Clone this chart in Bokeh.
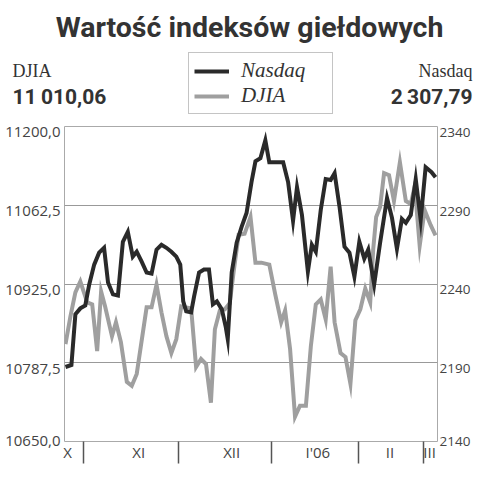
from bokeh.plotting import figure
from bokeh.layouts import column
from bokeh.models import (Range1d, LinearAxis, FixedTicker, CustomJSTickFormatter,
                          Legend, LegendItem)
from bokeh.core.properties import value
from bokeh.embed import file_html
from bokeh.resources import INLINE

# ---- data (session index along the time axis, index values) ----
nasdaq_t = [0.2, 1.4, 2.2, 3.2, 4.2, 5.0, 6.0, 7.0, 8.0, 8.8, 9.8, 10.8, 11.8, 12.8, 13.8,
            14.6, 15.6, 16.6, 17.6, 18.6, 19.6, 20.6, 21.6, 22.6, 23.4, 24.0, 24.6, 25.6, 26.2,
            27.2, 28.2, 29.2, 30.0, 30.8, 31.8, 32.6, 33.0, 33.8, 34.8, 35.8, 36.8, 37.8, 38.6,
            39.6, 40.6, 41.4, 42.6, 44.2, 45.2, 46.2, 47.0, 48.0, 49.2, 50.0, 50.8, 51.8, 52.8,
            53.8, 54.6, 55.6, 56.6, 57.6, 58.6, 59.6, 60.6, 61.4, 62.6, 63.8, 65.2, 66.2, 67.2,
            68.2, 69.0, 70.0, 71.0, 72.0, 73.0, 74.2, 75.0]
nasdaq_v = [2187.3, 2188.6, 2220.8, 2224.5, 2226.4, 2239.7, 2252.3, 2259.9, 2263.0, 2241.0,
            2233.4, 2232.7, 2266.8, 2273.1, 2257.4, 2260.5, 2254.2, 2247.3, 2246.6, 2261.8,
            2264.9, 2263.0, 2260.5, 2257.4, 2252.3, 2229.0, 2222.7, 2222.0, 2232.1, 2247.3,
            2249.2, 2249.2, 2227.1, 2229.0, 2223.9, 2212.6, 2205.0, 2247.3, 2266.2, 2276.3,
            2285.1, 2304.7, 2317.9, 2319.8, 2331.2, 2317.3, 2317.3, 2317.3, 2304.7, 2280.1,
            2301.5, 2283.8, 2247.9, 2264.9, 2260.5, 2287.0, 2306.6, 2306.0, 2310.3, 2288.9,
            2263.7, 2259.9, 2244.7, 2266.8, 2256.1, 2261.8, 2239.7, 2266.2, 2294.6, 2282.0,
            2262.4, 2281.3, 2278.8, 2283.8, 2306.6, 2280.7, 2314.1, 2311.0, 2307.79]

djia_t = [0.2, 1.2, 2.2, 3.2, 4.6, 5.6, 6.6, 7.4, 8.2, 9.6, 10.4, 11.4, 12.6, 13.6, 14.6,
          16.6, 17.6, 18.6, 19.6, 20.6, 21.6, 22.6, 23.6, 24.6, 25.6, 26.6, 27.6, 28.6, 29.6,
          30.4, 31.4, 32.4, 33.4, 34.2, 35.2, 36.4, 37.6, 38.6, 39.8, 41.4, 42.6, 43.8, 44.6,
          45.6, 46.6, 47.6, 48.8, 49.8, 50.8, 51.8, 52.8, 53.8, 54.6, 55.8, 56.8, 57.8, 58.8,
          59.8, 60.8, 61.8, 62.4, 63.0, 63.8, 64.6, 65.6, 66.6, 67.8, 69.0, 70.0, 70.8, 71.8,
          72.8, 74.0, 75.0]
djia_v = [10820, 10868.6, 10910.3, 10929.3, 10892.9, 10889.4, 10807.9, 10912, 10886, 10833.9,
          10858.2, 10823.5, 10754.1, 10747.2, 10768, 10884.2, 10884.2, 10924.1, 10875.6, 10833.9,
          10804.4, 10828.7, 10886, 10884.2, 10882.5, 10780.1, 10794, 10785.3, 10717.7, 10846.1,
          10879, 10880.8, 10891.2, 10946.7, 11010.9, 11012.6, 11042.1, 10962.3, 10962.3, 10958.8,
          10906.8, 10858.2, 10879, 10811.4, 10693.4, 10712.5, 10712.5, 10816.6, 10889.4, 10898.1,
          10863.4, 10955.4, 10858.2, 10804.4, 10797.5, 10750.6, 10861.7, 10880.8, 10917.2, 10892.9,
          10984.9, 11042.1, 11059.5, 11118.5, 11115, 11069.9, 11137.5, 11069.9, 11064.7, 11095.9,
          10991.8, 11054.3, 11028.2, 11010.06]

month_bounds = [3.8, 23.0, 41.8, 59.4, 72.6]
month_mid = [0.6, 15.0, 33.8, 51.2, 65.8, 73.8]
month_names = ["X", "XI", "XII", "I'06", "II", "III"]

djia_min, djia_max = 10650, 11200
nasdaq_min, nasdaq_max = 2140, 2340
djia_ticks = [10650, 10787.5, 10925, 11062.5, 11200]
nasdaq_ticks = [2140, 2190, 2240, 2290, 2340]

title_text = "Wartość indeksów giełdowych"
djia_name, djia_last = "DJIA", "11\u2009010,06"
nasdaq_name, nasdaq_last = "Nasdaq", "2\u2009307,79"

BLACK = "#2a2a2a"
GREY = "#9f9f9f"
TXT = "#333333"
FONT = "Open Sans"

W = 473
HH = 114          # header height
CH = 350          # chart height
TOP, BOTTOM, LEFT, RIGHT = 12, 22, 64, 33
FRAME_H = CH - TOP - BOTTOM
LABEL_DROP = 6    # tick labels hang just below their grid line

# ---------------- header ----------------
ph = figure(width=W, height=HH, output_backend="svg", toolbar_location=None,
            x_range=Range1d(0, W), y_range=Range1d(HH, 0),
            x_axis_type=None, y_axis_type=None,
            min_border_left=0, min_border_right=0, min_border_top=0, min_border_bottom=0)
ph.frame_align = False
ph.outline_line_color = None
ph.xgrid.visible = False
ph.ygrid.visible = False

ph.text(x=[249], y=[27], text=[title_text], text_align="center", text_baseline="alphabetic",
        text_font=value("Roboto"), text_font_style="bold", text_font_size="28.5px", text_color=TXT)
ph.text(x=[12, 472], y=[70, 70], text=[djia_name, nasdaq_name], text_align=["left", "right"],
        text_baseline="alphabetic", text_font=value("Liberation Serif"),
        text_font_size="18px", text_color=TXT)
ph.text(x=[12, 472], y=[96, 96], text=[djia_last, nasdaq_last], text_align=["left", "right"],
        text_baseline="alphabetic", text_font=value("Roboto"), text_font_style="bold",
        text_font_size="21px", text_color=TXT)

# legend swatch renderers (kept outside the visible header area)
sw_nq = ph.line(x=[-50, -40], y=[-50, -50], line_color=BLACK, line_width=4)
sw_dj = ph.line(x=[-50, -40], y=[-50, -50], line_color=GREY, line_width=4)
legend = Legend(items=[LegendItem(label=nasdaq_name, renderers=[sw_nq]),
                       LegendItem(label=djia_name, renderers=[sw_dj])],
                location=(188, 0), orientation="vertical",
                border_line_color="#8a8a8a", border_line_width=1,
                background_fill_color="white", background_fill_alpha=1,
                label_text_font="Liberation Serif", label_text_font_style="italic",
                label_text_font_size="21px", label_text_color=TXT,
                glyph_width=35, glyph_height=18, label_height=18, label_width=86,
                spacing=-9, padding=5, margin=0, label_standoff=12)
ph.add_layout(legend)

# ---------------- chart ----------------
p = figure(width=W, height=CH, output_backend="svg", toolbar_location=None,
           x_range=Range1d(0, 75.4), y_range=Range1d(djia_min, djia_max),
           min_border_left=LEFT, min_border_right=RIGHT, min_border_top=TOP, min_border_bottom=BOTTOM)
p.frame_align = False
dd = LABEL_DROP * (djia_max - djia_min) / FRAME_H
dn = LABEL_DROP * (nasdaq_max - nasdaq_min) / FRAME_H
p.extra_y_ranges = {
    "nq": Range1d(nasdaq_min, nasdaq_max),
    "djlab": Range1d(djia_min + dd, djia_max + dd),
    "nqlab": Range1d(nasdaq_min + dn, nasdaq_max + dn),
}
p.outline_line_color = "#aaaaaa"
p.outline_line_width = 1

p.xgrid.grid_line_color = None
p.ygrid.ticker = FixedTicker(ticks=djia_ticks)
p.ygrid.grid_line_color = "#999999"
p.ygrid.grid_line_width = 1

# label positions: hung just below each grid line; the lowest sits on the frame edge
dj_label_pos = [max(t, djia_min + dd + 0.01) for t in djia_ticks]
nq_label_pos = [max(t, nasdaq_min + dn + 0.01) for t in nasdaq_ticks]

# left axis (DJIA)
p.yaxis[0].visible = False
ly = LinearAxis(y_range_name="djlab", ticker=FixedTicker(ticks=dj_label_pos))
ly.formatter = CustomJSTickFormatter(
    args=dict(pos=dj_label_pos, vals=djia_ticks),
    code="const i = pos.indexOf(tick); const v = i >= 0 ? vals[i] : tick; return v.toFixed(1).replace('.', ',');")
ly.axis_line_color = None
ly.major_tick_line_color = None
ly.minor_tick_line_color = None
ly.major_tick_out = 0
ly.major_label_standoff = 4
ly.major_label_text_font = FONT
ly.major_label_text_font_size = "15px"
ly.major_label_text_color = "#444444"
p.add_layout(ly, "left")

# right axis (Nasdaq)
ry = LinearAxis(y_range_name="nqlab", ticker=FixedTicker(ticks=nq_label_pos))
ry.formatter = CustomJSTickFormatter(
    args=dict(pos=nq_label_pos, vals=nasdaq_ticks),
    code="const i = pos.indexOf(tick); const v = i >= 0 ? vals[i] : tick; return v.toFixed(0);")
ry.axis_line_color = None
ry.major_tick_line_color = None
ry.minor_tick_line_color = None
ry.major_tick_out = 0
ry.major_label_standoff = 2
ry.major_label_text_font = FONT
ry.major_label_text_font_size = "13.5px"
ry.major_label_text_color = "#444444"
p.add_layout(ry, "right")

# bottom axis (months)
bx = p.xaxis[0]
bx.ticker = FixedTicker(ticks=month_mid, minor_ticks=month_bounds)
bx.formatter = CustomJSTickFormatter(args=dict(pos=month_mid, names=month_names),
                                     code="const i = pos.indexOf(tick); return i >= 0 ? names[i] : '';")
bx.axis_line_color = None
bx.major_tick_line_color = None
bx.major_tick_in = 0
bx.major_tick_out = 0
bx.minor_tick_in = 0
bx.minor_tick_out = 22
bx.minor_tick_line_color = "#555555"
bx.minor_tick_line_width = 1.5
bx.major_label_standoff = -22
bx.major_label_text_font = FONT
bx.major_label_text_font_size = "15px"
bx.major_label_text_color = "#444444"

p.line(djia_t, djia_v, line_color=GREY, line_width=4, line_join="miter")
p.line(nasdaq_t, nasdaq_v, y_range_name="nq", line_color=BLACK, line_width=4, line_join="miter")

layout = column(ph, p, spacing=0)
open("out.html", "w").write(file_html(layout, INLINE))
